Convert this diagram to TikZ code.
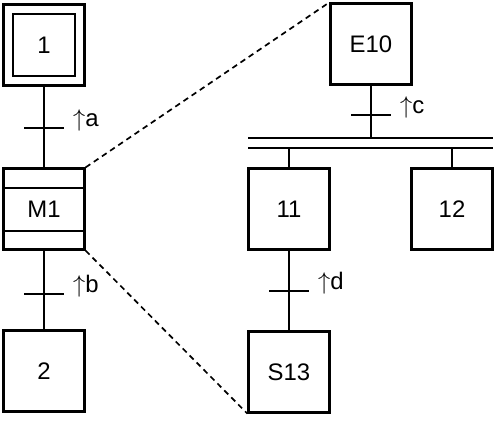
\documentclass[tikz,border=0pt]{standalone}
\usepackage{fontspec}
\setmainfont{Liberation Sans}
\usetikzlibrary{positioning}

\begin{document}
\begin{tikzpicture}[x=0.025cm,y=-0.025cm,line width=1.6pt,font=\fontsize{17}{20}\selectfont,stepbox/.style={draw,minimum size=2.025cm,inner sep=0pt},linkline/.style={dashed,line width=1.2pt,dash pattern=on 4pt off 3pt},cond/.style={anchor=base west,inner sep=0pt}]
\useasboundingbox (0,0) rectangle (498,422);
% left branch
\node[draw,minimum size=1.55cm,inner sep=0pt] (s1) at (44,45) {1};
\node[stepbox] (s1o) at (s1) {};
\node[stepbox] (m1) at (44,209) {M1};
\node[stepbox] (s2) at (44,371) {2};
\draw ([shift={(0,21)}]m1.north west) -- ([shift={(0,21)}]m1.north east);
\draw ([shift={(0,-20)}]m1.south west) -- ([shift={(0,-20)}]m1.south east);
% right branch
\node[stepbox] (e10) at (371,44) {E10};
\node[stepbox] (s11) at (289,209) {11};
\node[stepbox] (s12) at (452,209) {12};
\node[stepbox] (s13) at (289,372) {S13};
\coordinate (divA) at (248,138); \coordinate (divB) at (493,138);
\coordinate (divC) at (248,148); \coordinate (divD) at (493,148);
\draw (divA) -- (divB); \draw (divC) -- (divD);
% links
\draw (s1o.south) -- (m1.north);
\draw (m1.south) -- (s2.north);
\draw (e10.south) -- (e10.south |- divA);
\draw (s11.north) -- (s11.north |- divC);
\draw (s12.north) -- (s12.north |- divC);
\draw (s11.south) -- (s13.north);
% transitions
\coordinate (ta) at (44,128); \coordinate (tb) at (44,294);
\coordinate (tc) at (371,115); \coordinate (td) at (289,291);
\foreach \t/\1 in %
{ta/a,tb/b,tc/c,td/d} {
   \draw (\t) +(-20,0) -- +(20,0);
   \node[cond] (r\1) at ([shift={(28,-2)}]\t) {$\uparrow$\1};
}
\draw[linkline] (m1.north east) -- (e10.north west);
\draw[linkline] (m1.south east) -- (s13.south west);
\end{tikzpicture}
\end{document}
